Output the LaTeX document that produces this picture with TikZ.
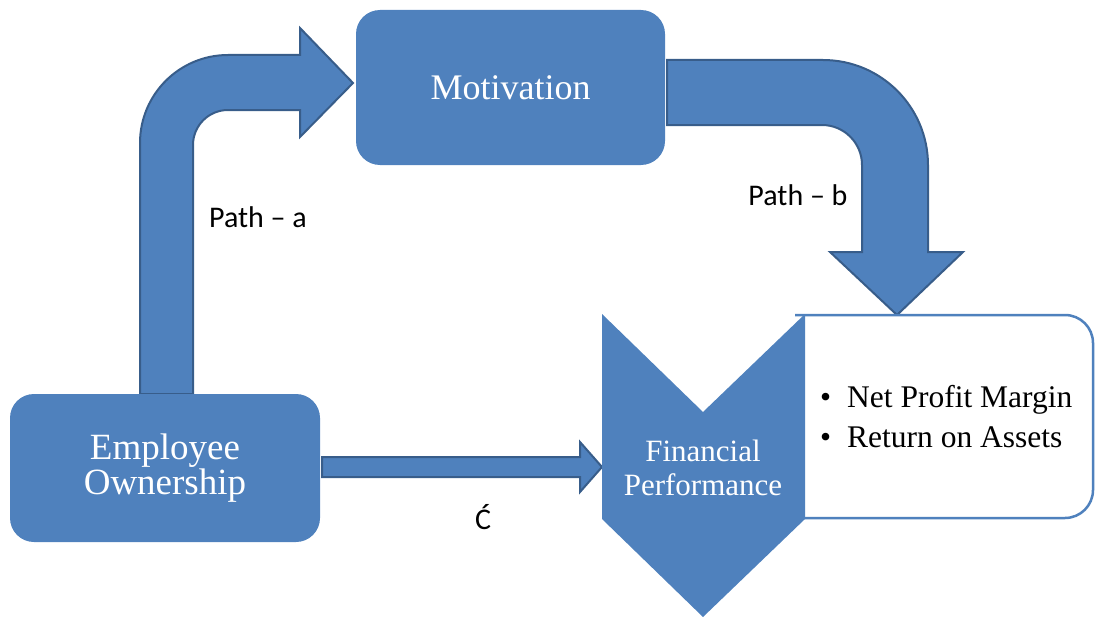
\documentclass[tikz,border=0pt]{standalone}
\usepackage{fontspec}
\setmainfont{Liberation Serif}
\newfontfamily\labelfont{Carlito}
\definecolor{boxblue}{HTML}{4F81BD}
\definecolor{edgeblue}{HTML}{385D8A}

\begin{document}
\begin{tikzpicture}
  [x=1pt,y=-1pt,
   block/.style={rectangle,rounded corners=24pt,fill=boxblue,text=white,align=center,inner sep=0pt},
   bigarrow/.style={fill=boxblue,draw=edgeblue,line width=2pt,line join=miter},
   pathlabel/.style={font=\labelfont\fontsize{30}{30}\selectfont,inner sep=0pt}]
  \useasboundingbox (0,0) rectangle (1095,618);

  % path a and path b, behind the boxes
  \draw [bigarrow] (140,394) -- (140,143) arc[start angle=180,end angle=90,radius=88pt]
    -- (300,55) -- (300,28) -- (353,83) -- (300,137) -- (300,110) -- (228,110)
    arc[start angle=90,end angle=180,radius=35pt] -- (193,394) -- cycle;
  \draw [bigarrow] (667,60) -- (823,60) arc[start angle=90,end angle=0,radius=105pt]
    -- (928,252) -- (963,252) -- (897,315) -- (830,252) -- (862,252) -- (862,165)
    arc[start angle=0,end angle=90,radius=40pt] -- (667,125) -- cycle;

  \node [block,minimum width=309pt,minimum height=155pt,font=\fontsize{36}{40}\selectfont] (mot) at (510.5,87.5) {Motivation};
  \node [block,minimum width=310pt,minimum height=148pt,font=\fontsize{37}{35}\selectfont] (emp) at (165,468) {Employee\\Ownership};

  % path c
  \draw [bigarrow] (322,457) -- (580,457) -- (580,442) -- (602,467) -- (580,492) -- (580,477) -- (322,477) -- cycle;

  % measures box and chevron
  \draw [draw=boxblue,line width=2.5pt,fill=white] (795,315) -- (1065,315)
    arc[start angle=90,end angle=0,radius=28pt] -- (1093,490)
    arc[start angle=0,end angle=-90,radius=28pt] -- (795,518);
  \fill [boxblue] (602,314) -- (703,412) -- (805,314) -- (805,519) -- (703,617) -- (602,519) -- cycle;
  \node [text=white,align=center,inner sep=0pt,font=\fontsize{31}{34}\selectfont] (fin) at (703,468) {Financial\\Performance};
  \node [anchor=base west,align=left,inner sep=0pt,font=\fontsize{31.5}{40}\selectfont] (kpi) at (820,447)
    {\makebox[27pt][l]{\textbullet}Net Profit Margin\\\makebox[27pt][l]{\textbullet}Return on Assets};

  \node [pathlabel] (pa) at (258,217) {Path \textendash{} a};
  \node [pathlabel] (pb) at (798,195) {Path \textendash{} b};
  \node [pathlabel] (pc) at (483,517) {Ć};
\end{tikzpicture}
\end{document}
